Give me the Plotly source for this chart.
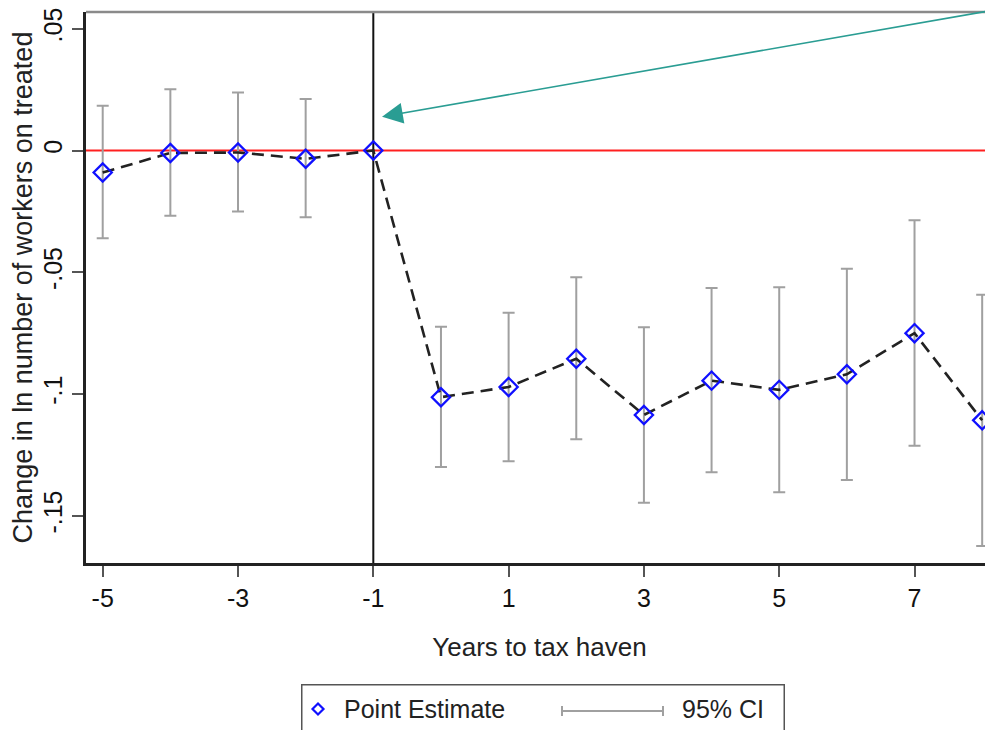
import plotly.graph_objects as go

years = [-5, -4, -3, -2, -1, 0, 1, 2, 3, 4, 5, 6, 7, 8]
estimate = [-0.009, -0.001, -0.0008, -0.0034, 0.0, -0.1013, -0.0971, -0.0855,
            -0.1086, -0.0945, -0.0983, -0.0919, -0.075, -0.1108]
ci_high = [0.0184, 0.0252, 0.0238, 0.0212, None, -0.0724, -0.0666, -0.052,
           -0.0726, -0.0565, -0.0561, -0.0485, -0.0286, -0.0592]
ci_low = [-0.036, -0.0268, -0.025, -0.0274, None, -0.130, -0.1276, -0.1186,
          -0.1447, -0.1321, -0.1403, -0.1353, -0.1212, -0.1624]
x_ticks = [-5, -3, -1, 1, 3, 5, 7]
y_ticks = [-0.15, -0.1, -0.05, 0, 0.05]
y_tick_labels = ["-.15", "-.1", "-.05", "0", ".05"]

FONT = "Liberation Sans, Arial, sans-serif"
# the page body adds an 8px offset; figure coordinates = screen coordinates - 8
OFF = 8
W, H = 985, 722
ML, MR, MT, MB = 78, 0, 4, 167
pw = W - ML - MR
ph = H - MT - MB

ci_x = [x for x, h in zip(years, ci_high) if h is not None]
ci_mid = [e for e, h in zip(estimate, ci_high) if h is not None]
ci_plus = [h - e for e, h in zip(estimate, ci_high) if h is not None]
ci_minus = [e - l for e, l in zip(estimate, ci_low) if l is not None]

fig = go.Figure()

fig.add_trace(go.Scatter(
    x=ci_x, y=ci_mid, mode="markers",
    marker=dict(size=1, color="rgba(0,0,0,0)"),
    error_y=dict(type="data", symmetric=False, array=ci_plus, arrayminus=ci_minus,
                 color="#a0a0a0", thickness=2, width=6),
    showlegend=False, hoverinfo="skip", cliponaxis=False))

fig.add_trace(go.Scatter(
    x=years, y=estimate, mode="lines",
    line=dict(color="#222222", width=2.6, dash="12px,7px"),
    showlegend=False, cliponaxis=False))
fig.add_trace(go.Scatter(
    x=years, y=estimate, mode="markers",
    marker=dict(symbol="diamond-open", size=14, color="#1010ff",
                line=dict(width=2.3, color="#1010ff")),
    showlegend=False, cliponaxis=False))

def px_x(p):
    # p: screen pixel of reference
    return (p - OFF - ML) / pw

def px_y(p):
    return (H - MB - (p - OFF)) / ph

bx0, bx1, by0 = 301, 784, 684
annotations = [
    # legend frame
    dict(x=px_x(bx0), y=px_y(by0), xref="paper", yref="paper", xanchor="left", yanchor="top",
         text=" ", showarrow=False, width=bx1 - bx0 - 2, height=70, borderpad=0,
         bordercolor="#555555", borderwidth=1.5, bgcolor="rgba(0,0,0,0)"),
    dict(x=px_x(342), y=px_y(709), xref="paper", yref="paper", xanchor="left", yanchor="middle",
         text="Point Estimate", showarrow=False, font=dict(family=FONT, size=25, color="#222222")),
    dict(x=px_x(680), y=px_y(709), xref="paper", yref="paper", xanchor="left", yanchor="middle",
         text="95% CI", showarrow=False, font=dict(family=FONT, size=25, color="#222222")),
    dict(x=-0.871, y=0.0139, xref="x", yref="y", ax=8.2, ay=0.0578, axref="x", ayref="y",
         text="", showarrow=True, arrowhead=2, arrowsize=2.6, arrowwidth=1.6,
         arrowcolor="#2a9d93", standoff=0),
]

fig.update_layout(
    width=W, height=H,
    margin=dict(l=ML, r=MR, t=MT, b=MB),
    paper_bgcolor="white", plot_bgcolor="white",
    font=dict(family=FONT, size=25, color="#222222"),
    annotations=annotations,
    xaxis=dict(range=[-5.247, 8.16], tickmode="array", tickvals=x_ticks,
               ticktext=[str(t) for t in x_ticks], automargin=False,
               showgrid=False, zeroline=False, showline=True, linecolor="#222222", linewidth=2.5,
               ticks="outside", ticklen=11, tickwidth=2, tickcolor="#555555",
               tickfont=dict(size=25, color="#111111"),
               title=dict(text="Years to tax haven", font=dict(size=26, color="#222222"), standoff=28)),
    yaxis=dict(range=[-0.1694, 0.0569], tickmode="array", tickvals=y_ticks, ticktext=y_tick_labels,
               tickangle=-90, automargin=False, ticklabeloverflow="allow",
               showgrid=False, zeroline=False, showline=True, linecolor="#222222", linewidth=2.5,
               ticks="outside", ticklen=11, tickwidth=2, tickcolor="#555555",
               tickfont=dict(size=25, color="#111111"),
               title=dict(text="Change in ln number of workers on treated",
                          font=dict(size=27, color="#222222"), standoff=4)),
)

# reference lines
fig.add_hline(y=0, line=dict(color="#ff2020", width=2), layer="below")
fig.add_vline(x=-1, line=dict(color="#111111", width=2), layer="below")
# top frame line (gray)
fig.add_shape(type="line", xref="paper", yref="paper", x0=0, x1=1, y0=1, y1=1,
              line=dict(color="#8a8a8a", width=2.5))
# legend diamond glyph
cx, cy, r = 318, 709, 5.5
fig.add_shape(type="path", xref="paper", yref="paper",
              path=f"M{px_x(cx - r)},{px_y(cy)} L{px_x(cx)},{px_y(cy - r)} "
                   f"L{px_x(cx + r)},{px_y(cy)} L{px_x(cx)},{px_y(cy + r)} Z",
              line=dict(color="#1010ff", width=2.2))
# legend CI glyph
ly = 711
fig.add_shape(type="line", xref="paper", yref="paper", x0=px_x(562), x1=px_x(663),
              y0=px_y(ly), y1=px_y(ly), line=dict(color="#a0a0a0", width=2))
for xx in (562, 663):
    fig.add_shape(type="line", xref="paper", yref="paper", x0=px_x(xx), x1=px_x(xx),
                  y0=px_y(ly - 5), y1=px_y(ly + 5), line=dict(color="#a0a0a0", width=2))

fig.write_html("out.html")
